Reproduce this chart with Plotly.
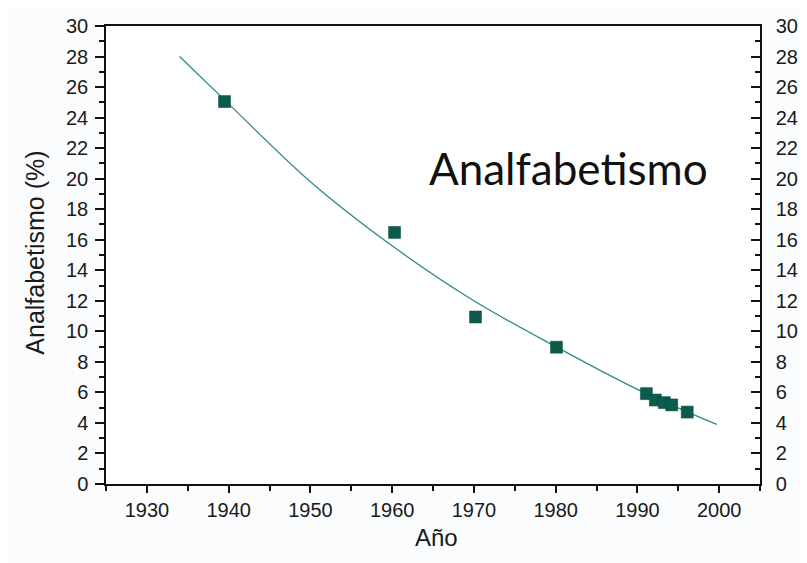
import plotly.graph_objects as go

# Observed data points
years = [1939.5, 1960.3, 1970.2, 1980.1, 1991.1, 1992.2, 1993.3, 1994.2, 1996.1]
illiteracy = [25.05, 16.48, 10.94, 8.96, 5.92, 5.50, 5.33, 5.18, 4.71]

# Fitted curve, values
curve_years = [1934, 1940, 1950, 1960, 1970, 1980, 1990, 1999.7]
curve_values = [28.0, 24.9, 19.8, 15.6, 12.0, 9.0, 6.2, 3.9]

x_ticks = [1930, 1940, 1950, 1960, 1970, 1980, 1990, 2000]
y_ticks = list(range(0, 31, 2))

font_main = "Liberation Sans, Arial, sans-serif"

fig = go.Figure()
fig.add_trace(go.Scatter(
    x=curve_years, y=curve_values, mode="lines",
    line=dict(color="#2f8a88", width=1.3, shape="spline"),
    showlegend=False, hoverinfo="skip"))
fig.add_trace(go.Scatter(
    x=years, y=illiteracy, mode="markers",
    marker=dict(symbol="square", size=12, color="#0c5b4c",
                line=dict(color="#0a4a3e", width=0.5)),
    showlegend=False))
# invisible trace for right axis
fig.add_trace(go.Scatter(x=[1925], y=[0], yaxis="y2", mode="markers",
                         marker=dict(opacity=0), showlegend=False, hoverinfo="skip"))

axis_common = dict(showgrid=False, zeroline=False, showline=True,
                   linecolor="#111", linewidth=1.5,
                   tickfont=dict(family=font_main, size=20, color="#1a1a1a"),
                   tickcolor="#111", tickwidth=1.5, ticklabeloverflow="allow")

fig.update_layout(
    width=807, height=563,
    margin=dict(l=98, r=55, t=7, b=87),
    paper_bgcolor="#fbfcfd", plot_bgcolor="#ffffff",
    xaxis=dict(range=[1925, 2005], tickvals=x_ticks, ticks="outside", ticklen=7,
               mirror=True, ticklabelstandoff=0,
               minor=dict(dtick=5, tick0=1925, ticks="outside", ticklen=5,
                          tickcolor="#111", tickwidth=1.5),
               **axis_common),
    yaxis=dict(range=[0, 30], tickvals=y_ticks, ticks="outside", ticklen=9,
               ticklabelstandoff=3,
               minor=dict(dtick=1, ticks="outside", ticklen=5,
                          tickcolor="#111", tickwidth=1.5),
               **axis_common),
    yaxis2=dict(range=[0, 30], tickvals=y_ticks, ticks="inside", ticklen=9,
                overlaying="y", side="right", ticklabelstandoff=10,
                minor=dict(dtick=1, ticks="inside", ticklen=5,
                           tickcolor="#111", tickwidth=1.5),
                **axis_common),
    annotations=[
        dict(text="Analfabetismo", x=1981.6, y=20.7, xref="x", yref="y",
             showarrow=False, font=dict(family="Lato, Carlito, sans-serif", size=44, color="#111")),
        dict(text="Analfabetismo (%)", x=-0.1086, y=0.505, xref="paper", yref="paper",
             textangle=-90, showarrow=False, xanchor="center", yanchor="middle",
             font=dict(family=font_main, size=25, color="#1a1a1a")),
        dict(text="Año", x=0.506, y=-0.1166, xref="paper", yref="paper",
             showarrow=False, yanchor="middle",
             font=dict(family=font_main, size=24, color="#1a1a1a")),
    ],
)

fig.write_html("out.html")
